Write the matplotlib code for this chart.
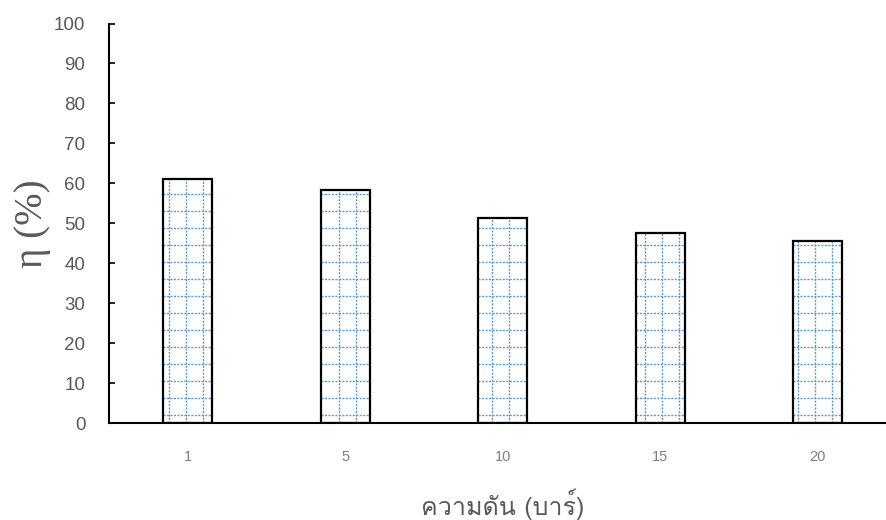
import numpy as np
import matplotlib
matplotlib.use("Agg")
import matplotlib.pyplot as plt
from matplotlib import font_manager
from matplotlib.collections import LineCollection

# Data
categories = ["1", "5", "10", "15", "20"]
efficiency = [61.0, 58.4, 51.3, 47.7, 45.6]
y_ticks = [0, 10, 20, 30, 40, 50, 60, 70, 80, 90, 100]
x_label = "ความดัน (บาร์)"
y_label = "η (%)"


def family_with_char(ch):
    """Return the name of an installed font family that has a glyph for ch."""
    try:
        from fontTools.ttLib import TTFont
    except Exception:
        return None
    seen = set()
    for f in font_manager.fontManager.ttflist:
        if f.fname in seen:
            continue
        seen.add(f.fname)
        try:
            tt = TTFont(f.fname, fontNumber=0, lazy=True)
            cmap = tt.getBestCmap()
            if cmap and ord(ch) in cmap:
                return f.name
        except Exception:
            continue
    return None


thai_family = family_with_char("ค")
label_families = ([thai_family] if thai_family else []) + ["DejaVu Sans"]

W, H, DPI = 886, 520, 100
fig = plt.figure(figsize=(W / DPI, H / DPI), dpi=DPI)
# axes spans past the right edge of the canvas
ax = fig.add_axes([109 / W, (H - 423.3) / H, 787.5 / W, 399.8 / H])

x = np.arange(len(categories))
bar_w = 0.311

# white fill underneath the pattern
fills = ax.bar(x, efficiency, width=bar_w, color="white", edgecolor="none", zorder=1)

# dotted grid pattern inside each bar (17 px cell, fixed to the canvas)
step_x = 17 / 157.5
step_y = 17 / 4.0
gx_all = -0.1171 + step_x * np.arange(-10, 60)
gy_all = 57.3 + step_y * np.arange(-20, 20)
segs = []
for xc, v in zip(x, efficiency):
    x0, x1 = xc - bar_w / 2, xc + bar_w / 2
    for xx in gx_all[(gx_all > x0 + 0.01) & (gx_all < x1 - 0.01)]:
        segs.append([(xx, 0), (xx, v)])
    for yy in gy_all[(gy_all > 0.4) & (gy_all < v - 0.4)]:
        segs.append([(x0, yy), (x1, yy)])
grid = LineCollection(segs, colors="#5b9bd5", linewidths=1.0,
                      linestyles=[(0, (1.5, 1.0))], zorder=2)
ax.add_collection(grid)

# bar outlines on top
ax.bar(x, efficiency, width=bar_w, color="none", edgecolor="black",
       linewidth=1.6, zorder=3)

ax.set_xlim(-0.5, 4.5)
ax.set_ylim(0, 100)
ax.set_yticks(y_ticks)
ax.set_xticks(x)
ax.set_xticklabels(categories)

for s in ("top", "right"):
    ax.spines[s].set_visible(False)
for s in ("left", "bottom"):
    ax.spines[s].set_linewidth(1.5)
    ax.spines[s].set_color("black")

ax.tick_params(axis="y", direction="in", length=4.5, width=1.2, color="black",
               labelsize=13.5, labelcolor="#595959", pad=17)
ax.tick_params(axis="x", length=0, labelsize=10.5, labelcolor="#7f7f7f", pad=19)
for lab in ax.get_yticklabels() + ax.get_xticklabels():
    lab.set_family(["Liberation Sans", "DejaVu Sans"])

ax.set_ylabel(y_label, family=["Liberation Serif", "DejaVu Serif"], fontsize=28,
              color="#595959")
ax.yaxis.set_label_coords((51 - 109) / 787.5, 0.5)
ax.set_xlabel(x_label, family=label_families, fontsize=18, color="#595959")
ax.xaxis.set_label_coords(0.5, -(504 - 423.3) / 399.8)
ax.xaxis.label.set_va("center")

fig.savefig("out.png", dpi=DPI)
